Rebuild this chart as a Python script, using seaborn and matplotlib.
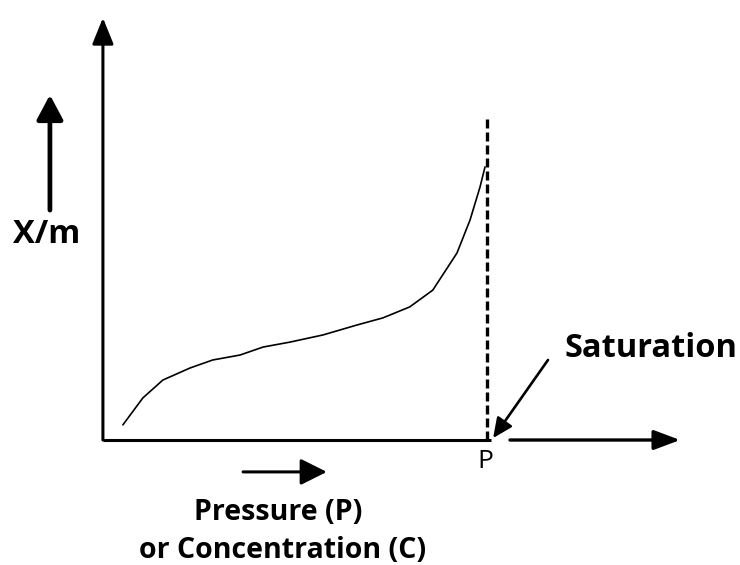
import matplotlib
matplotlib.use("Agg")
import matplotlib.pyplot as plt
import seaborn as sns

# adsorption isotherm (type III), P = saturation pressure -> 1.0
pressure = [0.052, 0.104, 0.156, 0.227, 0.286, 0.357, 0.417, 0.487, 0.573,
            0.661, 0.729, 0.799, 0.859, 0.922, 0.956, 0.982, 0.995]
uptake = [0.055, 0.153, 0.218, 0.262, 0.291, 0.309, 0.338, 0.356, 0.382,
          0.418, 0.444, 0.484, 0.545, 0.680, 0.800, 0.920, 0.993]

y_label = "X/m"
x_label = ["Pressure (P)", "or Concentration (C)"]
sat_label = "Saturation"
sat_tick = "P"

sns.set_style("white")
plt.rcParams["font.family"] = ["Open Sans", "DejaVu Sans"]
plt.rcParams["text.color"] = "black"

fig = plt.figure(figsize=(7.4, 5.65), dpi=100)
ax = fig.add_axes([0, 0, 1, 1])
ax.set_xlim(-0.268, 1.659)
ax.set_ylim(-0.4545, 1.6)
ax.axis("off")

sns.lineplot(x=pressure, y=uptake, sort=False, color="black", linewidth=1.2, ax=ax)


def arrow(tail, tip, lw, hl, hw):
    ax.annotate("", xy=tip, xytext=tail,
                arrowprops=dict(arrowstyle=f"-|>,head_length={hl},head_width={hw}",
                                lw=lw, color="black", shrinkA=0, shrinkB=0))


# axes
arrow((0, 0), (0, 1.535), 2.2, 1.6, 0.65)
ax.plot([0, 1.01], [0, 0], color="black", lw=2.2, solid_capstyle="butt")
arrow((1.06, 0), (1.503, 0), 2.4, 1.6, 0.6)

# saturation line
ax.plot([1, 1], [0, 1.17], color="black", lw=2.4, ls=(0, (2.7, 1.2)))

# helper arrows
arrow((-0.138, 0.836), (-0.138, 1.255), 3.4, 1.5, 0.8)
arrow((0.365, -0.116), (0.583, -0.116), 2.2, 1.6, 0.8)
arrow((1.159, 0.291), (1.016, 0.007), 1.9, 1.2, 0.55)

ax.text(-0.146, 0.749, y_label, ha="center", va="center", fontsize=23.5, fontweight="bold")
ax.text(1.203, 0.302, sat_label, ha="left", va="baseline", fontsize=23.5, fontweight="bold")
ax.text(0.456, -0.291, x_label[0], ha="center", va="baseline", fontsize=20.5, fontweight="bold")
ax.text(0.469, -0.429, x_label[1], ha="center", va="baseline", fontsize=20.5, fontweight="bold")
ax.text(0.997, -0.102, sat_tick, ha="center", va="baseline", fontsize=19)

fig.savefig("out.png", dpi=100, facecolor="white")
